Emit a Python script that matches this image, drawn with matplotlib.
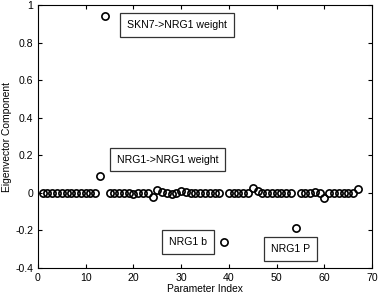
import matplotlib.pyplot as plt
from matplotlib.ticker import FuncFormatter

plt.rcParams["font.family"] = ["Liberation Sans", "DejaVu Sans"]

param_index = list(range(1, 68))
component = [
    0, 0, 0, 0, 0, 0, 0, 0, 0, 0,            # 1-10
    0, 0, 0.09, 0.943, 0, 0, 0, 0, 0, -0.005,  # 11-20
    0, 0, 0, -0.022, 0.013, 0.002, -0.003, -0.005, -0.002, 0.01,  # 21-30
    0.004, 0, 0, 0, 0, 0, 0, 0, -0.259, 0,   # 31-40
    0, 0, 0, 0, 0.027, 0.008, 0, 0, 0, 0,    # 41-50
    0, 0, 0, -0.186, 0, 0, 0, 0.004, 0, -0.025,  # 51-60
    0, 0, 0, 0, 0, 0, 0.02,                  # 61-67
]

labels = ["SKN7->NRG1 weight", "NRG1->NRG1 weight", "NRG1 b", "NRG1 P"]
label_x = [29.1, 27.1, 31.4, 52.9]
label_y = [0.895, 0.177, -0.262, -0.299]

fig = plt.figure(figsize=(3.79, 2.98), dpi=100)
ax = fig.add_axes([0.100, 0.1007, 0.882, 0.8823])

ax.plot(param_index, component, "o", markersize=5.2, markerfacecolor="none",
        markeredgecolor="black", markeredgewidth=1.2)

for text, x, y in zip(labels, label_x, label_y):
    ax.text(x, y, text, fontsize=7.6, ha="center", va="center",
            bbox=dict(boxstyle="square,pad=0.65", facecolor="white",
                      edgecolor="#333333", linewidth=0.9))

ax.set_xlim(0, 70)
ax.set_ylim(-0.4, 1)
ax.set_xticks(range(0, 71, 10))
ax.set_yticks([-0.4, -0.2, 0, 0.2, 0.4, 0.6, 0.8, 1])
ax.yaxis.set_major_formatter(FuncFormatter(lambda v, p: "%g" % round(v, 2)))
ax.tick_params(direction="in", top=True, right=True, labelsize=7.6, length=3, width=0.8)
for spine in ax.spines.values():
    spine.set_linewidth(0.8)

ax.set_xlabel("Parameter Index", fontsize=7.4, labelpad=1)
ax.set_ylabel("Eigenvector Component", fontsize=7.4, labelpad=2)

fig.savefig("out.png", dpi=100)
